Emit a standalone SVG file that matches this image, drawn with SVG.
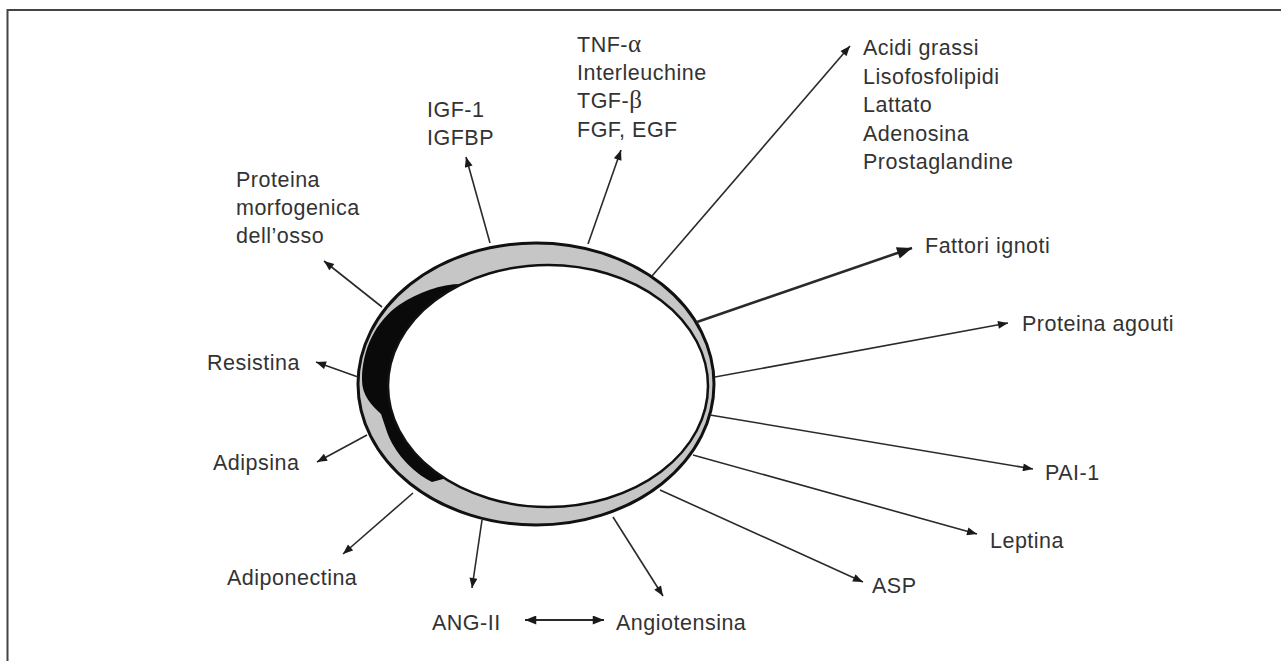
<svg xmlns="http://www.w3.org/2000/svg" width="1281" height="661" viewBox="0 0 1281 661">
<style>
text{font-family:"Liberation Sans",Arial,sans-serif;font-size:21.5px;fill:#333;letter-spacing:0.5px;}
.g{font-family:"Liberation Serif","Times New Roman",serif;font-size:25px;letter-spacing:0;}
.c line{stroke:#2a2a2a;stroke-width:1.6;marker-end:url(#ah);}
.c line.thick{stroke-width:2.6;marker-end:url(#ahb);}
.c line.dbl{stroke-width:2;marker-start:url(#ah2);marker-end:url(#ah2);}
</style>
<defs>
<marker id="ah" viewBox="0 0 10 8" refX="10" refY="4" markerWidth="11" markerHeight="8" markerUnits="userSpaceOnUse" orient="auto"><path d="M0,0 L10,4 L0,8 z" fill="#1a1a1a"/></marker>
<marker id="ahb" viewBox="0 0 10 8" refX="10" refY="4" markerWidth="16" markerHeight="12" markerUnits="userSpaceOnUse" orient="auto"><path d="M0,0 L10,4 L0,8 z" fill="#1a1a1a"/></marker>
<marker id="ah2" viewBox="0 0 10 8" refX="10" refY="4" markerWidth="12" markerHeight="9" markerUnits="userSpaceOnUse" orient="auto-start-reverse"><path d="M0,0 L10,4 L0,8 z" fill="#1a1a1a"/></marker>
</defs>
<rect width="1281" height="661" fill="#fff"/>
<g id="frame" stroke="#444" stroke-width="2" fill="none">
<line x1="7" y1="10" x2="1281" y2="10"/>
<line x1="7.5" y1="9" x2="7.5" y2="661"/>
</g>
<g id="cell">
<ellipse cx="536" cy="384" rx="178" ry="141" fill="#c6c6c6" stroke="#111" stroke-width="3"/>
<path d="M462,284 A160,121 0 0 0 445,478.6 L432,482 C412,472 394,452 387,432 L381,414 C371,405 362,395 362,380 C362,350 375,322 399,305 C419,292 440,284 462,284 Z" fill="#0a0a0a"/>
<ellipse cx="548" cy="386" rx="160" ry="121" fill="#fff" stroke="#111" stroke-width="2.5"/>
</g>
<g id="connectors" class="c">
<line x1="490" y1="243" x2="466" y2="157"/>
<line x1="588" y1="244" x2="621" y2="150"/>
<line x1="652" y1="276" x2="850" y2="46"/>
<line class="thick" x1="697" y1="322" x2="912" y2="248"/>
<line x1="715" y1="377" x2="1008" y2="323"/>
<line x1="710" y1="415" x2="1033" y2="469"/>
<line x1="693" y1="455" x2="977" y2="534"/>
<line x1="660" y1="490" x2="863" y2="582"/>
<line x1="613" y1="517" x2="663" y2="596"/>
<line x1="482" y1="520" x2="472" y2="588"/>
<line class="dbl" x1="525" y1="620" x2="604" y2="620"/>
<line x1="413" y1="493" x2="343" y2="554"/>
<line x1="367" y1="435" x2="317" y2="462"/>
<line x1="358" y1="377" x2="316" y2="362"/>
<line x1="382" y1="307" x2="324" y2="261"/>
</g>
<g id="n-igf"><text x="427" y="117">IGF-1</text><text x="427" y="145">IGFBP</text></g>
<g id="n-tnf"><text x="577" y="52">TNF-<tspan class="g">α</tspan></text><text x="577" y="80">Interleuchine</text><text x="577" y="108">TGF-<tspan class="g">β</tspan></text><text x="577" y="137">FGF, EGF</text></g>
<g id="n-acidi"><text x="863" y="55">Acidi grassi</text><text x="863" y="83.5">Lisofosfolipidi</text><text x="863" y="112">Lattato</text><text x="863" y="140.5">Adenosina</text><text x="863" y="169">Prostaglandine</text></g>
<g id="n-fattori"><text x="925" y="253">Fattori ignoti</text></g>
<g id="n-agouti"><text x="1022" y="331">Proteina agouti</text></g>
<g id="n-pai"><text x="1045" y="480">PAI-1</text></g>
<g id="n-leptina"><text x="990" y="548">Leptina</text></g>
<g id="n-asp"><text x="872" y="593">ASP</text></g>
<g id="n-angiotensina"><text x="616" y="630">Angiotensina</text></g>
<g id="n-angii"><text x="432" y="630">ANG-II</text></g>
<g id="n-adiponectina"><text x="227" y="585">Adiponectina</text></g>
<g id="n-adipsina"><text x="213" y="470">Adipsina</text></g>
<g id="n-resistina"><text x="207" y="370">Resistina</text></g>
<g id="n-bmp"><text x="236" y="187">Proteina</text><text x="236" y="215">morfogenica</text><text x="236" y="243">dell’osso</text></g>
</svg>
